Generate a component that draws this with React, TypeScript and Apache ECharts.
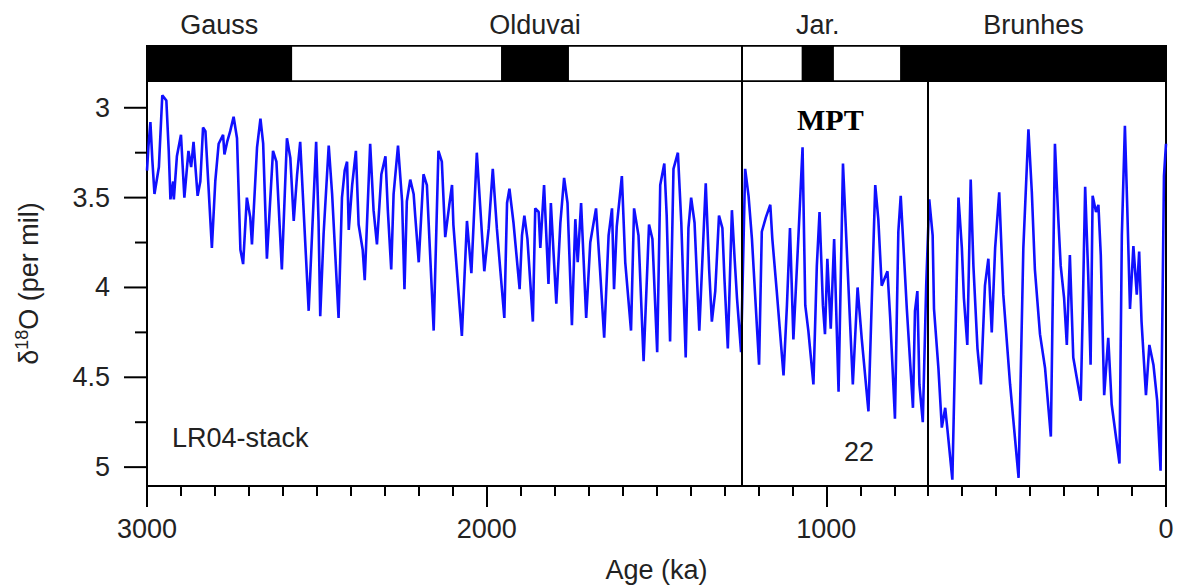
import React, { useEffect, useRef } from "react";
import * as echarts from "echarts";

// LR04 benthic δ18O stack, [age (ka), δ18O (per mil)]
const latePliocene: [number, number][] = [
  [3000, 3.35], [2996, 3.22], [2990, 3.08], [2984, 3.3], [2978, 3.48], [2965, 3.33], [2955, 2.93], [2943, 2.96],
  [2936, 3.24], [2931, 3.51], [2923, 3.41], [2921, 3.51], [2912, 3.27], [2900, 3.15], [2890, 3.5], [2878, 3.24],
  [2870, 3.33], [2863, 3.19], [2851, 3.49], [2843, 3.41], [2835, 3.11], [2828, 3.13], [2809, 3.78], [2799, 3.41],
  [2789, 3.2], [2776, 3.15], [2772, 3.26], [2764, 3.19], [2755, 3.13], [2745, 3.05], [2735, 3.17], [2725, 3.79],
  [2717, 3.87], [2706, 3.5], [2696, 3.61], [2691, 3.76], [2676, 3.22], [2666, 3.06], [2658, 3.2], [2647, 3.84],
  [2629, 3.24], [2619, 3.3], [2603, 3.9], [2588, 3.17], [2578, 3.28], [2568, 3.63], [2558, 3.37], [2549, 3.19],
  [2524, 4.13],
];
const earlyPleistoceneA: [number, number][] = [
  [2502, 3.19], [2495, 3.63], [2490, 4.16], [2480, 3.7], [2465, 3.21], [2455, 3.48], [2436, 4.17], [2426, 3.5],
  [2418, 3.35], [2411, 3.3], [2406, 3.68], [2396, 3.43], [2385, 3.24], [2377, 3.65], [2365, 3.79], [2359, 3.96],
  [2343, 3.2], [2333, 3.57], [2323, 3.76], [2310, 3.37], [2298, 3.27], [2291, 3.57], [2281, 3.9], [2274, 3.48],
  [2261, 3.21], [2249, 3.52], [2242, 4.01], [2235, 3.52], [2225, 3.4], [2215, 3.48], [2210, 3.61], [2200, 3.86],
  [2186, 3.37], [2176, 3.43], [2156, 4.24], [2142, 3.24], [2132, 3.3], [2122, 3.72], [2110, 3.54], [2102, 3.43],
  [2098, 3.65], [2073, 4.27], [2058, 3.63], [2045, 3.92], [2029, 3.25], [2019, 3.55],
];
const earlyPleistoceneB: [number, number][] = [
  [2007, 3.91], [1994, 3.67], [1982, 3.34], [1970, 3.67], [1960, 3.9], [1948, 4.17], [1940, 3.53], [1933, 3.45],
  [1921, 3.64], [1903, 4.01], [1896, 3.71], [1889, 3.6], [1880, 3.73], [1864, 4.19], [1857, 3.56], [1847, 3.58],
  [1842, 3.78], [1831, 3.43], [1818, 3.98], [1811, 3.53], [1795, 4.09], [1783, 3.64], [1772, 3.39], [1762, 3.53],
  [1749, 4.21], [1739, 3.62], [1732, 3.86], [1722, 3.53], [1707, 4.17], [1695, 3.75], [1678, 3.56], [1666, 3.91],
  [1654, 4.28], [1641, 3.71], [1631, 3.56], [1625, 4.01], [1617, 3.66], [1602, 3.38], [1592, 3.86], [1575, 4.24],
  [1566, 3.56], [1553, 3.71], [1538, 4.41],
];
const earlyPleistoceneC: [number, number][] = [
  [1522, 3.65], [1512, 3.73], [1498, 4.36], [1489, 3.43], [1477, 3.31], [1470, 3.6], [1460, 4.3], [1450, 3.34],
  [1437, 3.25], [1427, 3.64], [1414, 4.39], [1406, 3.67], [1398, 3.5], [1388, 3.64], [1374, 4.24], [1355, 3.42],
  [1345, 3.9], [1337, 4.19], [1327, 4.02], [1316, 3.6], [1306, 3.67], [1300, 3.95], [1290, 4.34], [1278, 3.57],
  [1270, 3.84], [1263, 4.06], [1251, 4.36], [1239, 3.34], [1229, 3.49], [1219, 3.73], [1198, 4.43], [1190, 3.69],
  [1178, 3.61], [1165, 3.54], [1159, 3.73], [1146, 4.02], [1126, 4.49], [1116, 4.1], [1107, 3.67], [1097, 4.29],
  [1082, 3.71], [1070, 3.22],
];
const midPleistocene: [number, number][] = [
  [1062, 4.1], [1053, 4.24], [1038, 4.54], [1028, 3.88], [1020, 3.58], [1010, 4.1], [1004, 4.26], [997, 3.84],
  [987, 4.23], [977, 3.73], [964, 4.58], [951, 3.31], [940, 3.78], [922, 4.54], [908, 4.0], [896, 4.28],
  [876, 4.69], [866, 4.06], [856, 3.43], [847, 3.62], [837, 3.99], [820, 3.91], [812, 4.17], [798, 4.73],
  [788, 3.69], [781, 3.49], [763, 4.12], [745, 4.67], [739, 4.13], [732, 4.02], [726, 4.54], [716, 4.75],
  [706, 3.99], [697, 3.51],
];
const latePleistocene: [number, number][] = [
  [687, 3.71], [683, 4.12], [670, 4.45], [660, 4.78], [650, 4.67], [643, 4.8], [629, 5.07], [611, 3.5],
  [601, 3.78], [595, 4.06], [585, 4.32], [575, 3.4], [567, 3.88], [555, 4.34], [545, 4.54], [533, 3.99],
  [523, 3.84], [513, 4.25], [503, 3.78], [491, 3.47], [479, 4.04], [459, 4.54], [434, 5.06], [420, 3.78],
  [405, 3.12], [395, 3.47], [386, 3.9], [371, 4.26], [356, 4.45], [339, 4.83], [327, 3.2], [317, 3.62],
  [310, 3.88], [300, 4.06], [292, 4.32], [283, 3.82], [273, 4.39], [263, 4.5], [251, 4.63], [245, 4.12],
  [238, 3.44], [229, 3.93], [222, 4.43], [216, 3.49], [206, 3.58], [199, 3.54], [192, 3.82], [182, 4.6],
  [170, 4.28], [160, 4.65], [137, 4.98], [130, 3.71], [121, 3.1], [114, 3.56], [106, 4.12], [96, 3.77],
  [86, 4.04], [79, 3.8], [72, 4.19], [59, 4.6], [49, 4.32], [37, 4.43], [26, 4.63], [16, 5.02],
  [6, 3.38], [0, 3.2],
];

// Magnetic polarity chrons (ka)
const chronStart = [3000, 2575, 1955, 1760, 1070, 980, 780];
const chronEnd = [2575, 1955, 1760, 1070, 980, 780, 0];
const chronNormal = [1, 0, 1, 0, 1, 0, 1];
const chronLabels = ["Gauss", "", "Olduvai", "", "Jar.", "", "Brunhes"];

// Mid-Pleistocene Transition boundaries (ka)
const mptBounds = [1250, 700];

// Axis ticks
const yMajorTicks = [3, 3.5, 4, 4.5, 5];
const yMinorTicks = [3.25, 3.75, 4.25, 4.75];

const SANS = '"Liberation Sans", Arial, Helvetica, sans-serif';
const TXT = "#222";

export default function App() {
  const ref = useRef<HTMLDivElement>(null);
  useEffect(() => {
    if (!ref.current) return;
    const chart = echarts.init(ref.current, undefined, { renderer: "svg" });
    const lr04 = [
      ...latePliocene,
      ...earlyPleistoceneA,
      ...earlyPleistoceneB,
      ...earlyPleistoceneC,
      ...midPleistocene,
      ...latePleistocene,
    ];
    const chronData = chronStart.map((s, i) => [s, chronEnd[i], chronNormal[i]]);
    const yTickData = [
      ...yMajorTicks.map((v) => [3000, v, 1]),
      ...yMinorTicks.map((v) => [3000, v, 0]),
    ];
    const yMin = 2.851;
    const yMax = 5.105;

    chart.setOption({
      animation: false,
      backgroundColor: "#fff",
      grid: [
        { left: 147, top: 81, width: 1019, height: 408, show: true, borderColor: "#000", borderWidth: 2, backgroundColor: "transparent" },
        { left: 147, top: 46, width: 1019, height: 35, show: true, borderColor: "#000", borderWidth: 2, backgroundColor: "transparent" },
      ],
      xAxis: [
        {
          type: "value",
          gridIndex: 0,
          min: 0,
          max: 3000,
          interval: 1000,
          inverse: true,
          name: "Age (ka)",
          nameLocation: "middle",
          nameGap: 70,
          nameTextStyle: { fontFamily: SANS, fontSize: 27, color: TXT },
          axisLine: { show: true, onZero: false, lineStyle: { color: "#000", width: 2 } },
          axisTick: { show: true, length: 21, lineStyle: { color: "#000", width: 2 } },
          minorTick: { show: true, splitNumber: 10, length: 10, lineStyle: { color: "#000", width: 2 } },
          axisLabel: { fontFamily: SANS, fontSize: 27, color: TXT, margin: 29, formatter: (v: number) => String(v) },
          splitLine: { show: false },
        },
        {
          type: "value",
          gridIndex: 1,
          min: 0,
          max: 3000,
          inverse: true,
          show: false,
        },
      ],
      yAxis: [
        {
          type: "value",
          gridIndex: 0,
          position: "left",
          min: yMin,
          max: yMax,
          inverse: true,
          name: "{d|δ}{s|18}{d|O (per mil)}",
          nameLocation: "middle",
          nameGap: 102,
          nameTextStyle: {
            color: TXT,
            rich: {
              d: { fontFamily: SANS, fontSize: 27, color: TXT, lineHeight: 32 },
              s: { fontFamily: SANS, fontSize: 18, color: TXT, lineHeight: 20, verticalAlign: "top" },
            },
          },
          axisLine: { show: true, onZero: false, lineStyle: { color: "#000", width: 2 } },
          axisTick: { show: false },
          axisLabel: {
            fontFamily: SANS,
            fontSize: 27,
            color: TXT,
            margin: 37,
            customValues: yMajorTicks,
            formatter: (v: number) => String(v),
          },
          splitLine: { show: false },
        },
        {
          type: "value",
          gridIndex: 1,
          min: 0,
          max: 1,
          show: false,
        },
      ],
      series: [
        {
          type: "line",
          name: "LR04",
          xAxisIndex: 0,
          yAxisIndex: 0,
          data: lr04,
          showSymbol: false,
          symbol: "none",
          clip: true,
          lineStyle: { color: "#1010ff", width: 2.6 },
          z: 2,
          markLine: {
            silent: true,
            symbol: ["none", "none"],
            label: { show: false },
            lineStyle: { color: "#000", width: 2, type: "solid" },
            data: mptBounds.map((b) => ({ xAxis: b })),
            z: 5,
          },
        },
        {
          type: "custom",
          name: "yTicks",
          xAxisIndex: 0,
          yAxisIndex: 0,
          data: yTickData,
          clip: false,
          silent: true,
          z: 4,
          renderItem: (_params: any, api: any) => {
            const p = api.coord([api.value(0), api.value(1)]);
            const len = api.value(2) ? 23 : 12;
            return {
              type: "line",
              shape: { x1: p[0] - len, y1: p[1], x2: p[0], y2: p[1] },
              style: { stroke: "#000", lineWidth: 2 },
            };
          },
        },
        {
          type: "custom",
          name: "Polarity",
          xAxisIndex: 1,
          yAxisIndex: 1,
          data: chronData,
          clip: false,
          z: 3,
          renderItem: (params: any, api: any) => {
            const i = params.dataIndex;
            const p0 = api.coord([api.value(0), 1]);
            const p1 = api.coord([api.value(1), 0]);
            const x = Math.min(p0[0], p1[0]);
            const w = Math.abs(p1[0] - p0[0]);
            const y = Math.min(p0[1], p1[1]);
            const h = Math.abs(p1[1] - p0[1]);
            const children: any[] = [
              {
                type: "rect",
                shape: { x, y, width: w, height: h },
                style: { fill: api.value(2) ? "#000" : "#fff", stroke: "#000", lineWidth: 1.5 },
              },
            ];
            const label = chronLabels[i];
            if (label) {
              children.push({
                type: "text",
                style: {
                  text: label,
                  x: x + w / 2,
                  y: y - 21,
                  align: "center",
                  verticalAlign: "middle",
                  fill: TXT,
                  font: `27px ${SANS}`,
                },
              });
            }
            return { type: "group", children };
          },
          markLine: {
            silent: true,
            symbol: ["none", "none"],
            label: { show: false },
            lineStyle: { color: "#000", width: 2, type: "solid" },
            data: [{ xAxis: mptBounds[0] }],
            z: 5,
          },
        },
      ],
      graphic: [
        {
          type: "text",
          left: 797,
          top: 104,
          style: { text: "MPT", font: `bold 30px "Liberation Serif", "Times New Roman", serif`, fill: "#000" },
        },
        {
          type: "text",
          left: 844,
          top: 438,
          style: { text: "22", font: `27px ${SANS}`, fill: TXT },
        },
        {
          type: "text",
          left: 172,
          top: 424,
          style: { text: "LR04-stack", font: `27px ${SANS}`, fill: TXT },
        },
      ],
    });
    return () => chart.dispose();
  }, []);
  return (
    <div
      ref={ref}
      style={{ position: "absolute", left: 0, top: 0, width: 1181, height: 588, background: "#fff" }}
    />
  );
}
